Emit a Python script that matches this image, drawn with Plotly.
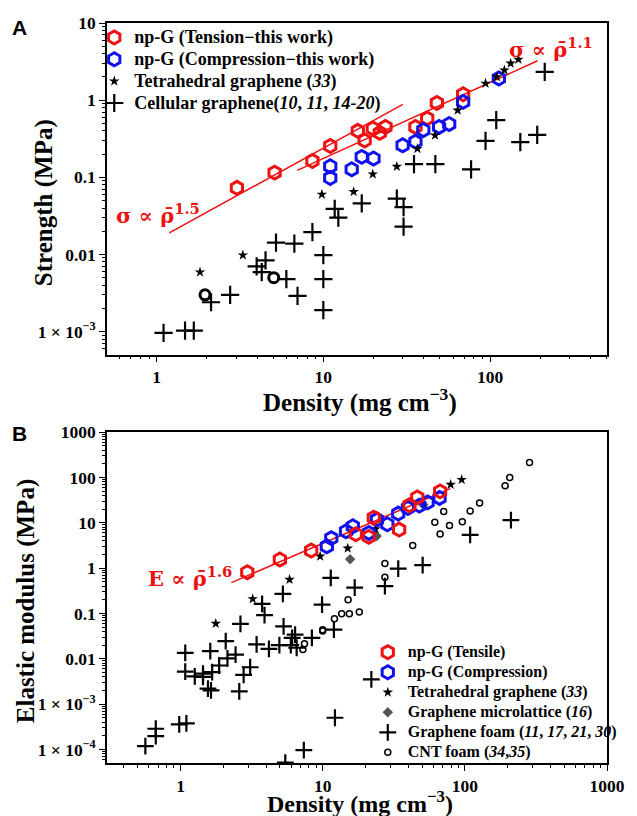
import plotly.graph_objects as go

# ---------------- Panel A data ----------------
A_tension_x = [3.03, 5.1, 8.6, 11.0, 16.1, 17.7, 19.8, 21.8, 23.6, 35.7, 42, 48, 69]
A_tension_y = [0.073, 0.115, 0.163, 0.255, 0.40, 0.30, 0.43, 0.377, 0.45, 0.45, 0.58, 0.92, 1.19]

A_comp_x = [11, 11, 14.8, 17, 20, 29.9, 35.7, 39.8, 49.5, 56.9, 69, 113]
A_comp_y = [0.139, 0.098, 0.127, 0.184, 0.175, 0.26, 0.29, 0.41, 0.45, 0.49, 0.95, 1.91]

A_tetra_x = [1.82, 3.29, 9.8, 15.2, 19.8, 27.6, 36.7, 46.8, 64, 94, 110, 122, 133, 148]
A_tetra_y = [0.0059, 0.0098, 0.06, 0.065, 0.11, 0.138, 0.235, 0.35, 0.74, 1.65, 2.0, 2.45, 3.0, 3.37]

A_cell_x = [35, 47, 77, 94, 109, 152, 192, 213, 27.6, 30.3, 30.3, 17, 11.7, 12.3, 8.6, 5.2, 6.7,
            10, 10, 10, 4.5, 3.98, 4.27, 6.0, 7.0, 2.76, 2.12, 1.1, 1.48, 1.67]
A_cell_y = [0.148, 0.148, 0.127, 0.296, 0.55, 0.285, 0.355, 2.33, 0.053, 0.041, 0.023, 0.046, 0.039,
            0.030, 0.0195, 0.0142, 0.0138, 0.0098, 0.0048, 0.0019, 0.0084, 0.007, 0.0059, 0.0048,
            0.0029, 0.003, 0.0024, 0.00096, 0.00103, 0.00103]

A_ring_x = [1.95, 5.04]
A_ring_y = [0.003, 0.005]

A_fit15_x = [1.19, 30.0]
A_fit15_y = [0.019, 0.88]
A_fit11_x = [6.97, 193]
A_fit11_y = [0.123, 3.24]

# ---------------- Panel B data ----------------
B_tensile_x = [2.95, 5.0, 8.3, 17.1, 21.1, 22.9, 34.5, 40.8, 46.3, 67]
B_tensile_y = [0.81, 1.55, 2.45, 5.6, 4.9, 13.0, 7.1, 24.5, 36.5, 49.5]

B_comp_x = [10.7, 11.5, 14.6, 16.3, 21.1, 24.1, 28.5, 34, 39.8, 47.9, 54.7, 66.4]
B_comp_y = [3.03, 4.6, 6.5, 8.4, 6.0, 11.8, 9.3, 16, 21.3, 24, 28.3, 35.5]

B_tetra_x = [1.77, 3.22, 5.85, 9.6, 15.0, 23.5, 79.5, 95]
B_tetra_y = [0.06, 0.21, 0.56, 1.83, 2.75, 7.3, 70, 90]

B_micro_x = [15.6, 24, 51]
B_micro_y = [1.57, 5.1, 25]

B_foam_x = [211, 109, 50.5, 34, 27.4, 16.8, 11.4, 5.25, 3.75, 9.9, 3.9, 2.64, 5.31, 6.4, 6.1, 8.4,
            12.0, 2.08, 3.43, 4.19, 4.96, 5.97, 6.56, 1.08, 1.62, 2.44, 2.14, 1.87, 3.09, 1.08,
            1.67, 1.44, 1.26, 1.44, 2.78, 1.56, 1.64, 2.59, 22, 12.2, 0.98, 1.1, 0.67, 0.67,
            0.566, 7.37, 5.46]
B_foam_y = [11.5, 5.4, 1.17, 0.98, 0.40, 0.37, 0.61, 0.27, 0.163, 0.157, 0.092, 0.059, 0.052,
            0.034, 0.029, 0.029, 0.044, 0.0245, 0.0207, 0.0166, 0.02, 0.02, 0.0175, 0.0135,
            0.0147, 0.0124, 0.0102, 0.0071, 0.0065, 0.0052, 0.0051, 0.0047, 0.0041, 0.0040,
            0.0044, 0.0022, 0.002, 0.0019, 0.0035, 0.0005, 0.000357, 0.000375, 0.000286,
            0.000197, 0.000118, 0.0000966, 0.0000513]

B_cnt_x = [285, 207, 192, 127, 109, 96, 71, 61.5, 78, 67, 43, 27.4, 27.4, 15.1, 13.6, 15.4,
           18.1, 12.1, 10, 10, 7.45, 7.26]
B_cnt_y = [216, 100, 66, 27.5, 18.2, 10.6, 17.9, 10.3, 8.7, 5.7, 3.15, 1.26, 0.63, 0.2, 0.099,
           0.099, 0.108, 0.076, 0.044, 0.041, 0.0214, 0.016]

B_fit_x = [2.28, 79]
B_fit_y = [0.48, 57]

A_xticks = [1, 10, 100]
A_xticktext = ["1", "10", "100"]
A_yticks = [0.001, 0.01, 0.1, 1, 10]
A_yticktext = ["1 × 10<sup>−3</sup>", "0.01", "0.1", "1", "10"]
B_xticks = [1, 10, 100, 1000]
B_xticktext = ["1", "10", "100", "1000"]
B_yticks = [1e-4, 1e-3, 0.01, 0.1, 1, 10, 100, 1000]
B_yticktext = ["1 × 10<sup>−4</sup>", "1 × 10<sup>−3</sup>", "0.01", "0.1", "1", "10", "100", "1000"]

SERIF = "Liberation Serif"
RED = "#ee1111"
BLUE = "#1111ee"


def minor_vals(lo, hi):
    return [m * 10 ** e for e in range(lo, hi) for m in range(2, 10)]


def leg(txt, px):
    return '<span style="font-size:%dpx">%s</span>' % (px, txt)


fig = go.Figure()

hexA = dict(symbol="hexagon-open", size=13, line=dict(width=3))
# Panel A traces
fig.add_trace(go.Scatter(x=A_fit15_x, y=A_fit15_y, mode="lines", line=dict(color=RED, width=1.5),
                         showlegend=False, xaxis="x", yaxis="y"))
fig.add_trace(go.Scatter(x=A_fit11_x, y=A_fit11_y, mode="lines", line=dict(color=RED, width=1.5),
                         showlegend=False, xaxis="x", yaxis="y"))
fig.add_trace(go.Scatter(x=A_tension_x, y=A_tension_y, mode="markers",
                         name=leg("np-G (Tension−this work)", 18),
                         marker=dict(color=RED, **hexA), legend="legend", xaxis="x", yaxis="y"))
fig.add_trace(go.Scatter(x=A_comp_x, y=A_comp_y, mode="markers",
                         name=leg("np-G (Compression−this work)", 18),
                         marker=dict(color=BLUE, **hexA), legend="legend", xaxis="x", yaxis="y"))
fig.add_trace(go.Scatter(x=A_tetra_x, y=A_tetra_y, mode="markers",
                         name=leg("Tetrahedral graphene (<i>33</i>)", 18),
                         marker=dict(symbol="star", size=8, color="black"), legend="legend",
                         xaxis="x", yaxis="y"))
fig.add_trace(go.Scatter(x=A_cell_x, y=A_cell_y, mode="markers",
                         name=leg("Cellular graphene(<i>10</i>, <i>11</i>, <i>14-20</i>)", 18),
                         marker=dict(symbol="cross-thin-open", size=13, color="black",
                                     line=dict(width=2.2, color="black")),
                         legend="legend", xaxis="x", yaxis="y"))
fig.add_trace(go.Scatter(x=A_ring_x, y=A_ring_y, mode="markers",
                         marker=dict(symbol="circle-open", size=10, color="black", line=dict(width=3)),
                         showlegend=False, xaxis="x", yaxis="y"))

# Panel B traces
hexB = dict(symbol="hexagon-open", size=13, line=dict(width=3))
fig.add_trace(go.Scatter(x=B_fit_x, y=B_fit_y, mode="lines", line=dict(color=RED, width=1.5),
                         showlegend=False, xaxis="x2", yaxis="y2"))
fig.add_trace(go.Scatter(x=B_cnt_x, y=B_cnt_y, mode="markers",
                         name=leg("CNT foam (<i>34</i>,<i>35</i>)", 16),
                         marker=dict(symbol="circle-open", size=6, color="black", line=dict(width=1.5)),
                         legend="legend2", legendrank=6, xaxis="x2", yaxis="y2"))
fig.add_trace(go.Scatter(x=B_foam_x, y=B_foam_y, mode="markers",
                         name=leg("Graphene foam (<i>11</i>, <i>17</i>, <i>21</i>, <i>30</i>)", 16),
                         marker=dict(symbol="cross-thin-open", size=12, color="black",
                                     line=dict(width=2.2, color="black")),
                         legend="legend2", legendrank=5, xaxis="x2", yaxis="y2"))
fig.add_trace(go.Scatter(x=B_micro_x, y=B_micro_y, mode="markers",
                         name=leg("Graphene microlattice (<i>16</i>)", 16),
                         marker=dict(symbol="diamond", size=8, color="#555555"),
                         legend="legend2", legendrank=4, xaxis="x2", yaxis="y2"))
fig.add_trace(go.Scatter(x=B_tetra_x, y=B_tetra_y, mode="markers",
                         name=leg("Tetrahedral graphene (<i>33</i>)", 16),
                         marker=dict(symbol="star", size=8, color="black"),
                         legend="legend2", legendrank=3, xaxis="x2", yaxis="y2"))
fig.add_trace(go.Scatter(x=B_comp_x, y=B_comp_y, mode="markers", name=leg("np-G (Compression)", 16),
                         marker=dict(color=BLUE, **hexB), legend="legend2", legendrank=2,
                         xaxis="x2", yaxis="y2"))
fig.add_trace(go.Scatter(x=B_tensile_x, y=B_tensile_y, mode="markers", name=leg("np-G (Tensile)", 16),
                         marker=dict(color=RED, **hexB), legend="legend2", legendrank=1,
                         xaxis="x2", yaxis="y2"))

tickfont = dict(family=SERIF, size=17.5, color="black", weight="bold")
axis_common = dict(type="log", showline=True, linecolor="black", linewidth=1.5, mirror=True,
                   ticks="outside", ticklen=6, tickwidth=1.3, tickcolor="black", showgrid=False,
                   zeroline=False, tickfont=tickfont, tickmode="array")

A_dom = [0.5517, 1.0]
B_dom = [0.0, 0.447]
L, R = 107, 20
W = 637 - L - R

fig.update_layout(
    width=637, height=816,
    margin=dict(l=L, r=R, t=23, b=52.5),
    paper_bgcolor="white", plot_bgcolor="white",
    font=dict(family=SERIF, color="black"),
    xaxis=dict(axis_common, range=[-0.298, 2.702], domain=[0, 1], anchor="y",
               tickvals=A_xticks, ticktext=A_xticktext,
               minor=dict(ticks="outside", ticklen=3, tickcolor="black", tickmode="array",
                          tickvals=minor_vals(-1, 3))),
    yaxis=dict(axis_common, range=[-3.3, 1.0], domain=A_dom, anchor="x",
               tickvals=A_yticks, ticktext=A_yticktext,
               minor=dict(ticks="outside", ticklen=3, tickcolor="black", tickmode="array",
                          tickvals=minor_vals(-4, 1))),
    xaxis2=dict(axis_common, range=[-0.517, 3.0], domain=[0, 1], anchor="y2",
                tickvals=B_xticks, ticktext=B_xticktext,
                minor=dict(ticks="outside", ticklen=3, tickcolor="black", tickmode="array",
                           tickvals=minor_vals(-1, 3))),
    yaxis2=dict(axis_common, range=[-4.3, 3.0], domain=B_dom, anchor="x2",
                tickvals=B_yticks, ticktext=B_yticktext,
                minor=dict(ticks="outside", ticklen=3, tickcolor="black", tickmode="array",
                           tickvals=minor_vals(-5, 3))),
    legend=dict(x=(94 - L) / W, y=1.002, xanchor="left", yanchor="top", bgcolor="rgba(0,0,0,0)",
                font=dict(family=SERIF, size=14.5, color="black", weight="bold"),
                itemsizing="trace", tracegroupgap=0),
    legend2=dict(x=(373 - L) / W, y=0.170, xanchor="left", yanchor="top", bgcolor="rgba(0,0,0,0)",
                 font=dict(family=SERIF, size=13.1, color="black", weight="bold"),
                 itemsizing="trace", tracegroupgap=0),
)

ann_font = dict(family=SERIF, size=25, color="black", weight="bold")
ann_font_b = dict(family=SERIF, size=24, color="black", weight="bold")
fit_font = dict(family="DejaVu Serif", size=21, color=RED, weight="bold")
H = 740.5
BOT = 763.5


def py(p):
    return (BOT - p) / H


def px(p):
    return (p - L) / W


fig.update_layout(annotations=[
    dict(text="<b>A</b>", x=px(18), y=py(28), xref="paper", yref="paper", showarrow=False,
         xanchor="center", yanchor="middle",
         font=dict(family="Liberation Sans", size=21, color="black")),
    dict(text="<b>B</b>", x=px(18), y=py(434), xref="paper", yref="paper", showarrow=False,
         xanchor="center", yanchor="middle",
         font=dict(family="Liberation Sans", size=21, color="black")),
    dict(text="Strength (MPa)", x=px(43), y=py(203), xref="paper", yref="paper", textangle=-90,
         xanchor="center", yanchor="middle", showarrow=False, font=ann_font),
    dict(text="Elastic modulus (MPa)", x=px(24), y=py(602), xref="paper", yref="paper",
         textangle=-90, xanchor="center", yanchor="middle", showarrow=False, font=ann_font),
    dict(text="Density (mg cm<sup>−3</sup>)", x=px(365), y=py(401), xref="paper", yref="paper",
         xanchor="center", yanchor="middle", showarrow=False, font=ann_font),
    dict(text="Density (mg cm<sup>−3</sup>)", x=px(365), y=py(803), xref="paper", yref="paper",
         xanchor="center", yanchor="middle", showarrow=False, font=ann_font_b),
    dict(text="σ ∝ ρ\u0304<sup>1.5</sup>", x=0.01, y=-1.47, xref="x", yref="y", showarrow=False,
         xanchor="center", yanchor="middle", font=fit_font),
    dict(text="σ ∝ ρ\u0304<sup>1.1</sup>", x=2.366, y=0.675, xref="x", yref="y", showarrow=False,
         xanchor="center", yanchor="middle", font=fit_font),
    dict(text="E ∝ ρ\u0304<sup>1.6</sup>", x=0.064, y=-0.186, xref="x2", yref="y2", showarrow=False,
         xanchor="center", yanchor="middle", font=fit_font),
])

fig.write_html("out.html", config={"displayModeBar": False},
               post_script="document.body.style.margin='0px';")
